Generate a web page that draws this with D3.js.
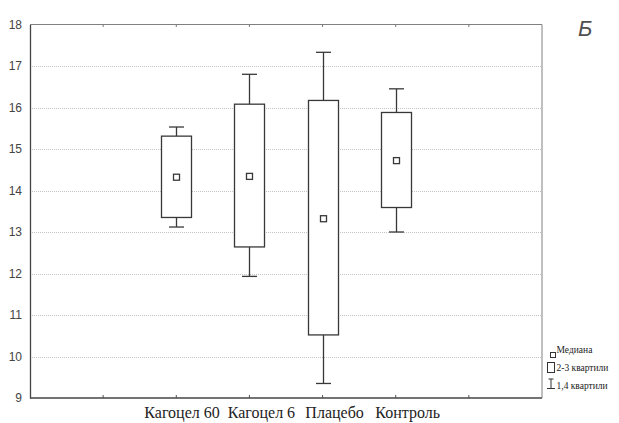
<!DOCTYPE html>
<html><head><meta charset="utf-8">
<script src="https://cdn.jsdelivr.net/npm/d3@7"></script>
<style>body{margin:0;background:#fff}</style>
</head><body>
<svg id="c" width="619" height="423"></svg>
<script>
const categories = ["Кагоцел 60", "Кагоцел 6", "Плацебо", "Контроль"];
const whiskerLow  = [13.12, 11.93, 9.35, 13.00];
const q1          = [13.35, 12.64, 10.52, 13.59];
const median      = [14.32, 14.34, 13.32, 14.72];
const q3          = [15.31, 16.08, 16.17, 15.88];
const whiskerHigh = [15.53, 16.80, 17.33, 16.45];
const yTicks = [9, 10, 11, 12, 13, 14, 15, 16, 17, 18];
const legendLabels = ["Медиана", "2-3 квартили", "1,4 квартили"];
const panelLetter = "Б";

const svg = d3.select("#c");
const L = 30, R = 542, T = 24.5, B = 398;
const x = d3.scalePoint().domain(categories).range([L, R]).padding(2);
const y = d3.scaleLinear().domain([9, 18]).range([B, T]);
const stroke = "#383838";

// grid
svg.append("g").selectAll("line").data(yTicks.filter(v => v > 9 && v < 18)).join("line")
  .attr("x1", L).attr("x2", R).attr("y1", d => Math.round(y(d)) + 0.5).attr("y2", d => Math.round(y(d)) + 0.5)
  .attr("stroke", "#c4c4c4").attr("stroke-width", 1).attr("stroke-dasharray", "1,1");

// frame: top & right lighter
svg.append("line").attr("x1", L).attr("x2", R).attr("y1", T).attr("y2", T).attr("stroke", "#808080");
svg.append("line").attr("x1", R).attr("x2", R).attr("y1", T).attr("y2", B).attr("stroke", "#808080");

// y axis
const yAxis = d3.axisLeft(y).tickValues(yTicks).tickSize(0).tickPadding(8);
const gy = svg.append("g").attr("transform", `translate(${L},0)`).call(yAxis);
gy.select(".domain").attr("stroke", "#444").attr("stroke-width", 1.3);
gy.selectAll("text").attr("font-family", "Liberation Sans, Arial, sans-serif").attr("font-size", 12).attr("fill", "#444");

// x ticks positions (inside ticks on bottom and top)
const step = x.step();
const tickPos = d3.range(-1, categories.length + 1).map(i => x(categories[0]) + i * step);
svg.append("g").selectAll("line").data(tickPos).join("line")
  .attr("x1", d => d).attr("x2", d => d).attr("y1", B).attr("y2", B - 3).attr("stroke", "#555");
svg.append("g").selectAll("line").data(tickPos).join("line")
  .attr("x1", d => d).attr("x2", d => d).attr("y1", T).attr("y2", T + 2.5).attr("stroke", "#777");

// bottom axis line
svg.append("line").attr("x1", L).attr("x2", R).attr("y1", B).attr("y2", B).attr("stroke", "#444").attr("stroke-width", 1.3);

// x labels
const labels = svg.append("g").selectAll("text").data(categories).join("text")
  .attr("x", d => x(d) + 12).attr("y", 418).attr("text-anchor", "middle")
  .attr("font-family", "Liberation Serif, Times New Roman, serif").attr("font-size", 16).attr("fill", "#222")
  .text(d => d);
// keep a minimum gap between neighbouring labels
const nodes = labels.nodes();
for (let i = 0; i < nodes.length - 1; i++) {
  const a = nodes[i].getBBox(), b = nodes[i + 1].getBBox();
  const gap = b.x - (a.x + a.width);
  if (gap < 8) {
    const shift = 8 - gap;
    d3.select(nodes[i]).attr("x", +d3.select(nodes[i]).attr("x") - shift);
  }
}

// boxes
const bw = 30, cw = 15, ms = 6;
const g = svg.append("g").attr("fill", "none").attr("stroke", stroke).attr("stroke-width", 1.3);
categories.forEach((c, i) => {
  const cx = Math.round(x(c)) + 0.5;
  g.append("line").attr("x1", cx).attr("x2", cx).attr("y1", y(whiskerHigh[i])).attr("y2", y(q3[i]));
  g.append("line").attr("x1", cx).attr("x2", cx).attr("y1", y(q1[i])).attr("y2", y(whiskerLow[i]));
  g.append("line").attr("x1", cx - cw / 2).attr("x2", cx + cw / 2).attr("y1", y(whiskerHigh[i])).attr("y2", y(whiskerHigh[i]));
  g.append("line").attr("x1", cx - cw / 2).attr("x2", cx + cw / 2).attr("y1", y(whiskerLow[i])).attr("y2", y(whiskerLow[i]));
  g.append("rect").attr("x", cx - bw / 2).attr("y", y(q3[i])).attr("width", bw).attr("height", y(q1[i]) - y(q3[i])).attr("fill", "#fff");
  g.append("rect").attr("x", cx - ms / 2).attr("y", y(median[i]) - ms / 2).attr("width", ms).attr("height", ms).attr("fill", "#fff");
});

// legend
const lg = svg.append("g");
const lf = "Liberation Serif, Times New Roman, serif";
lg.append("rect").attr("x", 550.5).attr("y", 352.5).attr("width", 5).attr("height", 5).attr("fill", "none").attr("stroke", "#333");
lg.append("rect").attr("x", 547.5).attr("y", 362.5).attr("width", 7).attr("height", 10).attr("fill", "none").attr("stroke", "#333");
lg.append("line").attr("x1", 551).attr("x2", 551).attr("y1", 379).attr("y2", 388).attr("stroke", "#333");
lg.append("line").attr("x1", 548.5).attr("x2", 553.5).attr("y1", 379).attr("y2", 379).attr("stroke", "#333");
lg.append("line").attr("x1", 547).attr("x2", 555).attr("y1", 388.5).attr("y2", 388.5).attr("stroke", "#333");
lg.selectAll("text").data(legendLabels).join("text")
  .attr("x", 556.5).attr("y", (d, i) => 353 + i * 18)
  .attr("font-family", lf).attr("font-size", 9.5).attr("fill", "#222").text(d => d);

// panel letter
svg.append("text").attr("x", 578).attr("y", 36).attr("font-family", "Liberation Sans, Arial, sans-serif")
  .attr("font-style", "italic").attr("font-size", 22).attr("fill", "#505050").text(panelLetter);
</script>
</body></html>
